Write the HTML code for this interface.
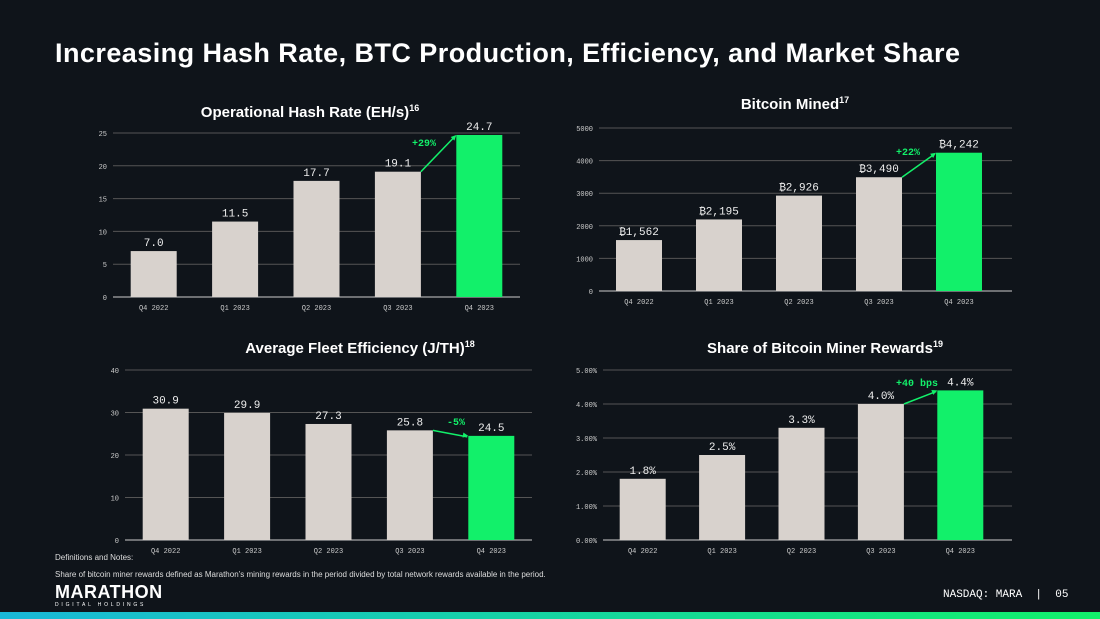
<!DOCTYPE html>
<html><head><meta charset="utf-8">
<style>
body{margin:0;width:1100px;height:619px;background:#0f141a;overflow:hidden;position:relative;font-family:"Liberation Sans",sans-serif;color:#fff}
.title{position:absolute;left:55px;top:38px;font-size:27px;font-weight:bold;letter-spacing:0.45px}
svg{position:absolute;left:0;top:0}
.note{position:absolute;left:55px;font-size:8px;color:#ddd}
</style></head><body>
<div class="title">Increasing Hash Rate, BTC Production, Efficiency, and Market Share</div>
<svg id="s" width="1100" height="619">
<defs><linearGradient id="g" x1="0" x2="1"><stop offset="0" stop-color="#19b8d8"/><stop offset="1" stop-color="#12f06a"/></linearGradient></defs>
<rect x="0" y="612" width="1100" height="7" fill="url(#g)"/>
</svg>
<div class="note" style="top:553px">Definitions and Notes:</div>
<div class="note" style="top:570px">Share of bitcoin miner rewards defined as Marathon’s mining rewards in the period divided by total network rewards available in the period.</div>
<div style="position:absolute;left:55px;top:582px;font-size:18px;font-weight:bold;letter-spacing:0.5px">MARATHON<div style="font-size:5px;letter-spacing:2.8px;font-weight:normal;margin-top:-1px">DIGITAL HOLDINGS</div></div>
<div style="position:absolute;left:943px;top:589px;font-family:'Liberation Mono',monospace;font-size:11px">NASDAQ: MARA &nbsp;| &nbsp;05</div>
<script>
const cats=["Q4 2022","Q1 2023","Q2 2023","Q3 2023","Q4 2023"];
const hashVals=[7.0,11.5,17.7,19.1,24.7];
const hashLabels=["7.0","11.5","17.7","19.1","24.7"];
const hashTicks=[0,5,10,15,20,25];
const btcVals=[1562,2195,2926,3490,4242];
const btcLabels=["₿1,562","₿2,195","₿2,926","₿3,490","₿4,242"];
const btcTicks=[0,1000,2000,3000,4000,5000];
const effVals=[30.9,29.9,27.3,25.8,24.5];
const effLabels=["30.9","29.9","27.3","25.8","24.5"];
const effTicks=[0,10,20,30,40];
const shareVals=[1.8,2.5,3.3,4.0,4.4];
const shareLabels=["1.8%","2.5%","3.3%","4.0%","4.4%"];
const shareTicks=[0,1,2,3,4,5];
const shareTickLabels=["0.00%","1.00%","2.00%","3.00%","4.00%","5.00%"];
const NS="http://www.w3.org/2000/svg",S=document.getElementById('s');
function mk(t,a,txt){const e=document.createElementNS(NS,t);for(const k in a)e.setAttribute(k,a[k]);if(txt!=null)e.textContent=txt;S.appendChild(e);return e;}
function chart(o){
 const y=v=>o.y0-(v-o.tmin)/(o.tmax-o.tmin)*(o.y0-o.y1);
 const step=(o.x1-o.x0)/cats.length, xc=i=>o.x0+step*(i+0.5);
 let t=mk('text',{x:o.tx,y:o.ty,'font-size':15,'font-weight':'bold','text-anchor':'middle',fill:'#fff','font-family':'Liberation Sans'},o.title);
 
 const sup=document.createElementNS(NS,'tspan');sup.setAttribute('font-size',9);sup.setAttribute('dy',-6);sup.textContent=o.sup;t.appendChild(sup);
 o.ticks.forEach((v,i)=>{
  let l=mk('line',{x1:o.gx0,x2:o.gx1,y1:y(v),y2:y(v),stroke:i==0?'#ccc':'#555','stroke-width':1});
  
  let tl=mk('text',{x:o.gx0-6,y:y(v)+3,'font-size':7,'text-anchor':'end',fill:'#ccc','font-family':'Liberation Mono'},o.tlab?o.tlab[i]:v);
  
 });
 const bw=46;
 o.vals.forEach((v,i)=>{
  let r=mk('rect',{x:xc(i)-bw/2,y:y(v),width:bw,height:o.y0-y(v),fill:i==4?'#12f06a':'#d8d2cd'});
  
  let lb=mk('text',{x:xc(i),y:y(v)-5,'font-size':11,'text-anchor':'middle',fill:'#eee','font-family':'Liberation Mono'},o.labels[i]);
  
  let cl=mk('text',{x:xc(i),y:o.y0+13,'font-size':7,'text-anchor':'middle',fill:'#ccc','font-family':'Liberation Mono'},cats[i]);
  
 });
 const ax=xc(3)+bw/2, ay=y(o.vals[3]), bx=xc(4)-bw/2, by=y(o.vals[4]);
 let ar=mk('line',{x1:ax,y1:ay,x2:bx-1,y2:by+1,stroke:'#12f06a','stroke-width':1.5});
 
 const ang=Math.atan2(by-ay,bx-ax),h=6;
 mk('polygon',{points:`${bx},${by} ${bx-h*Math.cos(ang-0.45)},${by-h*Math.sin(ang-0.45)} ${bx-h*Math.cos(ang+0.45)},${by-h*Math.sin(ang+0.45)}`,fill:'#12f06a'});
 let ch=mk('text',{x:o.cx,y:o.cy,'font-size':10,'font-weight':'bold','text-anchor':'middle',fill:'#12f06a','font-family':'Liberation Mono'},o.chg);
 
}
chart({name:'hash-rate',title:'Operational Hash Rate (EH/s)',sup:'16',tx:310,ty:117,x0:113,x1:520,gx0:113,gx1:520,y0:297,y1:133,tmin:0,tmax:25,ticks:hashTicks,vals:hashVals,labels:hashLabels,chg:'+29%',cx:424,cy:146});
chart({name:'bitcoin-mined',title:'Bitcoin Mined',sup:'17',tx:795,ty:109,x0:599,x1:999,gx0:599,gx1:1012,y0:291,y1:128,tmin:0,tmax:5000,ticks:btcTicks,vals:btcVals,labels:btcLabels,chg:'+22%',cx:908,cy:155});
chart({name:'fleet-efficiency',title:'Average Fleet Efficiency (J/TH)',sup:'18',tx:360,ty:353,x0:125,x1:532,gx0:125,gx1:532,y0:540,y1:370,tmin:0,tmax:40,ticks:effTicks,vals:effVals,labels:effLabels,chg:'-5%',cx:456,cy:425});
chart({name:'miner-rewards-share',title:'Share of Bitcoin Miner Rewards',sup:'19',tx:825,ty:353,x0:603,x1:1000,gx0:603,gx1:1012,y0:540,y1:370,tmin:0,tmax:5,ticks:shareTicks,tlab:shareTickLabels,vals:shareVals,labels:shareLabels,chg:'+40 bps',cx:917,cy:386});
</script>
</body></html>
